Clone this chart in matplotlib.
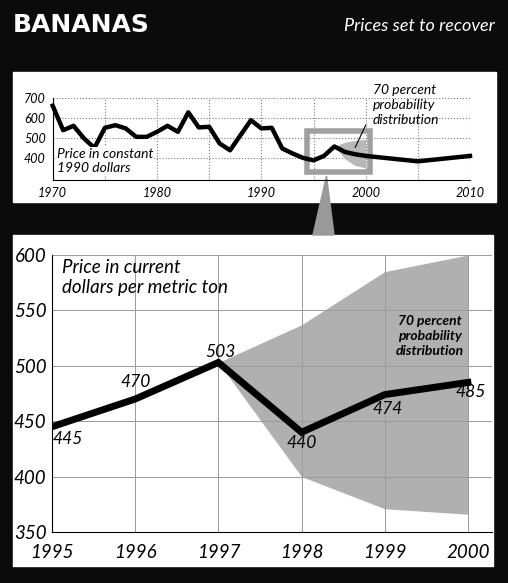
import matplotlib
matplotlib.use("Agg")
import matplotlib.pyplot as plt
from matplotlib.patches import Rectangle, Polygon

plt.rcParams['font.family'] = ['Lato', 'DejaVu Sans']
plt.rcParams['font.style'] = 'italic'

# Long-run series, constant 1990 dollars
hist_years = list(range(1970, 2001)) + [2005, 2010]
hist_price = [660, 538, 560, 497, 450, 550, 563, 547, 505, 505,
              530, 560, 530, 627, 552, 555, 472, 438, 513, 588,
              547, 550, 447, 422, 400, 388, 410, 457, 430, 418,
              410, 383, 410]
hist_fan_years = [1997, 1998, 1999, 2000]
hist_fan_high = [457, 478, 488, 492]
hist_fan_low = [457, 395, 362, 350]

# Close-up, current dollars per metric ton
years = [1995, 1996, 1997, 1998, 1999, 2000]
price = [445, 470, 503, 440, 474, 485]
fan_years = [1997, 1998, 1999, 2000]
fan_high = [503, 537, 585, 600]
fan_low = [503, 400, 371, 366]

W, H = 508, 583


def fx(px):
    return px / W


def fy(py):
    return 1 - py / H


def italic_ticks(ax):
    for lbl in ax.get_xticklabels() + ax.get_yticklabels():
        lbl.set_fontstyle('italic')


fig = plt.figure(figsize=(W / 100, H / 100), dpi=100, facecolor='#0b0b0b')

# white panels on the black page
for x0, y0, x1, y1 in [(13, 72, 496, 202), (13, 235, 493, 566)]:
    fig.patches.append(Rectangle((fx(x0), fy(y1)), fx(x1) - fx(x0), fy(y0) - fy(y1),
                                 transform=fig.transFigure, color='white', zorder=-2))

# grey spike linking the highlight box to the close-up
fig.patches.append(Polygon([(fx(326.5), fy(176)), (fx(313), fy(235)), (fx(334), fy(235))],
                           closed=True, transform=fig.transFigure, color='#9a9a9a', zorder=-1))

fig.text(fx(13), fy(32), 'BANANAS', color='white', fontsize=18, fontweight='bold',
         fontstyle='normal', family='DejaVu Sans', va='baseline', ha='left')
fig.text(fx(495), fy(31), 'Prices set to recover', color='white', fontsize=13,
         va='baseline', ha='right')

# ---- top panel
ax1 = fig.add_axes([fx(52.7), fy(180), fx(470) - fx(52.7), fy(97.7) - fy(180)])
ax1.set_facecolor('none')
ax1.set_xlim(1970, 2010)
ax1.set_ylim(290, 700)
ax1.fill_between(hist_fan_years, hist_fan_low, hist_fan_high, color='#b8b8b8', lw=0, zorder=2)
ax1.add_patch(Rectangle((1994.4, 328), 6.0, 205, fill=False, edgecolor='#a0a0a0', lw=4,
                        clip_on=False, zorder=3))
ax1.plot(hist_years, hist_price, color='black', lw=3.2, zorder=4, clip_on=False)
ax1.set_xticks([1970, 1980, 1990, 2000, 2010])
ax1.set_xticks([1975, 1985, 1995, 2005], minor=True)
ax1.set_yticks([400, 500, 600, 700])
ax1.grid(True, which='both', ls=':', color='#777777', lw=0.8)
ax1.tick_params(which='both', length=0, labelsize=9, pad=5)
italic_ticks(ax1)
for s in ['top', 'right']:
    ax1.spines[s].set_visible(False)
for s in ['left', 'bottom']:
    ax1.spines[s].set_linewidth(0.8)
ax1.text(1970.4, 449, 'Price in constant\n1990 dollars', fontsize=10, va='top', ha='left',
         linespacing=1.2, zorder=5,
         bbox=dict(facecolor='white', edgecolor='none', pad=0.5))
ax1.text(2000.7, 770, '70 percent\nprobability\ndistribution', fontsize=10, va='top',
         ha='left', linespacing=1.3)
ax1.plot([2000.0, 1999.0], [563, 453], color='black', lw=0.8, clip_on=False, zorder=5)

# ---- bottom panel
ax2 = fig.add_axes([fx(52), fy(532), fx(492) - fx(52), fy(255) - fy(532)])
ax2.set_facecolor('none')
ax2.set_xlim(1995, 2000.29)
ax2.set_ylim(350, 600)
ax2.fill_between(fan_years, fan_low, fan_high, color='#b0b0b0', lw=0, zorder=1)
ax2.plot(years, price, color='black', lw=5, zorder=3, solid_joinstyle='miter')
ax2.set_xticks(years)
ax2.set_yticks([350, 400, 450, 500, 550, 600])
ax2.grid(True, color='#9a9a9a', lw=0.7, zorder=0)
ax2.tick_params(length=0, labelsize=13.5, pad=4)
ax2.tick_params(axis='x', pad=9)
italic_ticks(ax2)
for s in ['top', 'right']:
    ax2.spines[s].set_visible(False)
for s in ['left', 'bottom']:
    ax2.spines[s].set_linewidth(0.8)

offsets = [(11, -8.5), (0.7, 12), (1.2, 7.5), (0.4, -8), (2.2, -10.5), (2.2, -7)]
for x, v, off in zip(years, price, offsets):
    ax2.annotate(str(v), (x, v), xytext=off, textcoords='offset points', ha='center',
                 va='center', fontsize=12.5, zorder=4)

ax2.text(1995.12, 596, 'Price in current\ndollars per metric ton', fontsize=13.5,
         va='top', ha='left', linespacing=1.2)
ax2.text(1999.54, 527, '70 percent\nprobability\ndistribution', fontsize=10,
         fontweight='bold', ha='center', va='center', linespacing=1.3, zorder=4)

fig.savefig('out.png', dpi=100, facecolor=fig.get_facecolor())
